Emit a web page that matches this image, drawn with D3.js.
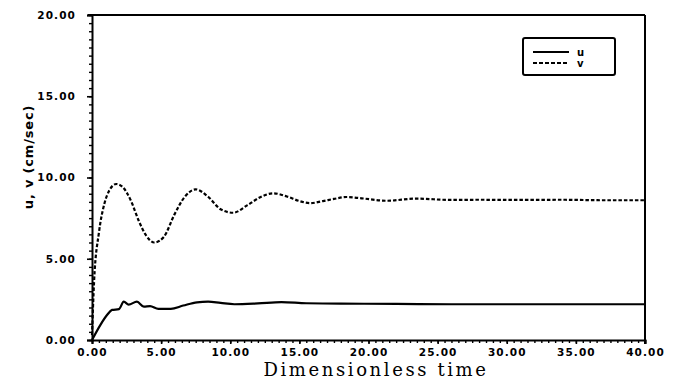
<!DOCTYPE html>
<html>
<head>
<meta charset="utf-8">
<script src="https://cdn.jsdelivr.net/npm/d3@7"></script>
<style>
  html, body { margin: 0; padding: 0; background: #fff; }
  svg { display: block; }
</style>
</head>
<body>
<div id="chart"></div>
<script>
// Velocity components vs dimensionless time
const timesU  = [0, 0.6, 1.1, 1.45, 1.95, 2.3, 2.65, 3.25, 3.75, 4.2, 4.8, 5.7, 6.6, 7.6, 8.4, 9.3, 10.3, 12, 13.7, 15.5, 18, 22, 26, 30, 35, 40];
const uValues = [0, 0.92, 1.55, 1.85, 1.9, 2.36, 2.18, 2.36, 2.05, 2.09, 1.92, 1.92, 2.12, 2.32, 2.36, 2.28, 2.2, 2.25, 2.33, 2.26, 2.24, 2.22, 2.2, 2.2, 2.2, 2.2];

const timesV  = [0, 0.15, 0.5, 0.9, 1.25, 1.75, 2.2, 2.8, 3.4, 3.9, 4.5, 5.2, 5.95, 6.7, 7.5, 8.35, 9.3, 10.2, 11.25, 12.2, 13.1, 14.15, 15.0, 15.8, 16.7, 17.5, 18.4, 19.5, 21.3, 23.5, 25.9, 28, 31, 34, 37, 40];
const vValues = [0.3, 3.6, 6.6, 8.4, 9.2, 9.6, 9.43, 8.6, 7.3, 6.45, 6.0, 6.35, 7.7, 8.8, 9.27, 8.85, 8.05, 7.83, 8.3, 8.8, 9.03, 8.82, 8.55, 8.42, 8.55, 8.68, 8.8, 8.72, 8.57, 8.7, 8.62, 8.63, 8.62, 8.63, 8.6, 8.6];

const xMajorTicks = [0, 5, 10, 15, 20, 25, 30, 35, 40];
const yMajorTicks = [0, 5, 10, 15, 20];
const seriesNames = ["u", "v"];

const W = 674, H = 382;
const m = { left: 92, right: 29, top: 15, bottom: 42 };
const iw = W - m.left - m.right, ih = H - m.top - m.bottom;

const svg = d3.select("#chart").append("svg").attr("width", W).attr("height", H);
const g = svg.append("g").attr("transform", `translate(${m.left},${m.top})`);

const x = d3.scaleLinear().domain([0, 40]).range([0, iw]);
const y = d3.scaleLinear().domain([0, 20]).range([ih, 0]);

const minorX = d3.range(0, 40.001, 0.5);
const minorY = d3.range(0, 20.001, 0.5);
const tickFont = "'DejaVu Sans', sans-serif";

// minor ticks
g.append("g").attr("transform", `translate(0,${ih})`)
  .call(d3.axisBottom(x).tickValues(minorX).tickSize(3).tickFormat(""))
  .call(a => a.select(".domain").remove())
  .selectAll("line").attr("stroke", "#000").attr("stroke-width", 1.4);
g.append("g")
  .call(d3.axisLeft(y).tickValues(minorY).tickSize(3).tickFormat(""))
  .call(a => a.select(".domain").remove())
  .selectAll("line").attr("stroke", "#000").attr("stroke-width", 1.4);

// major ticks with labels
const xAxis = g.append("g").attr("transform", `translate(0,${ih})`)
  .call(d3.axisBottom(x).tickValues(xMajorTicks).tickSize(4).tickPadding(5).tickFormat(d3.format(".2f")));
const yAxis = g.append("g")
  .call(d3.axisLeft(y).tickValues(yMajorTicks).tickSize(5).tickPadding(11).tickFormat(d3.format(".2f")));
[xAxis, yAxis].forEach(a => {
  a.select(".domain").attr("stroke", "#000").attr("stroke-width", 2);
  a.selectAll("line").attr("stroke", "#000").attr("stroke-width", 1.6);
  a.selectAll("text").attr("fill", "#000").attr("font-family", tickFont)
    .attr("font-weight", "bold").attr("font-size", 10.5).attr("letter-spacing", 1.1);
});

// frame top and right
g.append("line").attr("x1", -4).attr("x2", iw).attr("y1", 0).attr("y2", 0)
  .attr("stroke", "#000").attr("stroke-width", 2);
g.append("line").attr("x1", iw).attr("x2", iw).attr("y1", 0).attr("y2", ih + 4)
  .attr("stroke", "#000").attr("stroke-width", 2);

// curves
const line = d3.line().x(d => x(d[0])).y(d => y(d[1])).curve(d3.curveMonotoneX);
const uData = timesU.map((t, i) => [t, uValues[i]]);
const vData = timesV.map((t, i) => [t, vValues[i]]);

g.append("path").datum(uData).attr("d", line)
  .attr("fill", "none").attr("stroke", "#000").attr("stroke-width", 2.2);
g.append("path").datum(vData).attr("d", line)
  .attr("fill", "none").attr("stroke", "#000").attr("stroke-width", 2.2)
  .attr("stroke-dasharray", "3.5,2");

// legend
const lg = svg.append("g").attr("transform", "translate(523,38)");
lg.append("rect").attr("width", 92).attr("height", 37).attr("rx", 2)
  .attr("fill", "#fff").attr("stroke", "#000").attr("stroke-width", 2);
seriesNames.forEach((name, i) => {
  const yy = 14 + i * 11;
  lg.append("line").attr("x1", 10).attr("x2", 46).attr("y1", yy).attr("y2", yy)
    .attr("stroke", "#000").attr("stroke-width", 2)
    .attr("stroke-dasharray", i === 0 ? null : "4,2");
  lg.append("text").attr("x", 54).attr("y", yy + 3.5).text(name)
    .attr("font-family", tickFont).attr("font-weight", "bold").attr("font-size", 10);
});

// axis titles
svg.append("text").attr("x", 376).attr("y", 376).attr("text-anchor", "middle")
  .attr("font-family", "'DejaVu Serif', serif").attr("font-size", 18)
  .attr("letter-spacing", 2.6).text("Dimensionless time");
svg.append("text").attr("transform", "translate(33,157) rotate(-90)").attr("text-anchor", "middle")
  .attr("font-family", tickFont).attr("font-weight", "bold").attr("font-size", 13)
  .attr("letter-spacing", 0.8).text("u, v (cm/sec)");
</script>
</body>
</html>
